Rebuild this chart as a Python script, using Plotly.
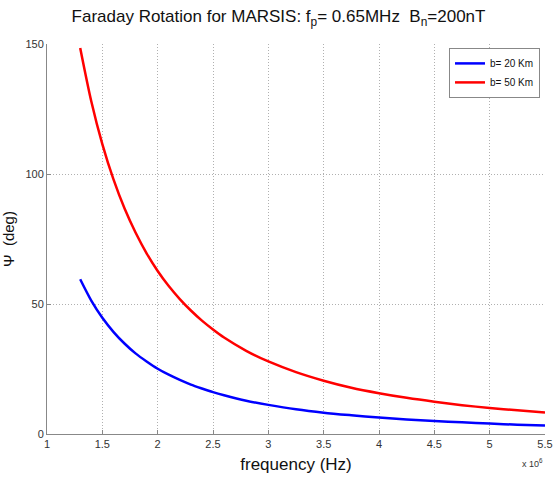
import plotly.graph_objects as go

freq_e6 = [1.3, 1.4, 1.5, 1.6, 1.7, 1.8, 1.9, 2.0, 2.1, 2.2, 2.3, 2.4, 2.5, 2.6, 2.8, 3.0,
           3.25, 3.5, 3.75, 4.0, 4.25, 4.5, 4.75, 5.0, 5.25, 5.5]
psi_b20 = [59.5, 51.3, 44.7, 39.3, 34.8, 31.0, 27.9, 25.1, 22.8, 20.8, 19.0, 17.5, 16.1,
           14.9, 12.8, 11.2, 9.5, 8.2, 7.2, 6.3, 5.6, 5.0, 4.5, 4.0, 3.6, 3.3]
psi_b50 = [148.5, 128.0, 111.5, 98.0, 86.8, 77.5, 69.5, 62.7, 56.9, 51.9, 47.5, 43.6, 40.2,
           37.1, 32.0, 27.9, 23.8, 20.5, 17.8, 15.7, 13.9, 12.4, 11.1, 10.0, 9.1, 8.3]
x_ticks = [1, 1.5, 2, 2.5, 3, 3.5, 4, 4.5, 5, 5.5]
x_tick_text = ["1", "1.5", "2", "2.5", "3", "3.5", "4", "4.5", "5", "5.5"]
y_ticks = [0, 50, 100, 150]

fig = go.Figure()
fig.add_trace(go.Scatter(x=freq_e6, y=psi_b20, mode="lines", name="b= 20 Km",
                         line=dict(color="#0000ff", width=2.5, shape="spline", smoothing=0.8)))
fig.add_trace(go.Scatter(x=freq_e6, y=psi_b50, mode="lines", name="b= 50 Km",
                         line=dict(color="#ff0000", width=2.5, shape="spline", smoothing=0.8)))

font = "Liberation Sans, Arial, sans-serif"
fig.update_layout(
    width=557, height=477,
    margin=dict(l=47, r=12, t=44, b=43),
    paper_bgcolor="white", plot_bgcolor="white",
    font=dict(family=font, color="#222222"),
    title=dict(text="Faraday Rotation for MARSIS: f<sub>p</sub>= 0.65MHz  B<sub>n</sub>=200nT",
               x=0.5, xanchor="center", y=0.966, yanchor="middle",
               font=dict(size=17, color="#111111")),
    showlegend=True,
    legend=dict(x=0.99, y=0.99, xanchor="right", yanchor="top",
                bgcolor="white", bordercolor="#888888", borderwidth=1,
                font=dict(size=10, color="#111111"), tracegroupgap=0,
                itemwidth=30),
    xaxis=dict(range=[1, 5.5], tickvals=x_ticks, ticktext=x_tick_text, automargin=False,
               showgrid=True, gridcolor="#b0b0b0", griddash="1px,2px", gridwidth=1,
               showline=True, linecolor="#888888", linewidth=1,
               ticks="inside", ticklen=4, tickcolor="#888888",
               tickfont=dict(size=11, color="#333333"), zeroline=False,
               title=dict(text="frequency (Hz)", font=dict(size=17, color="#111111"), standoff=8)),
    yaxis=dict(range=[0, 150], tickvals=y_ticks, automargin=False,
               showgrid=True, gridcolor="#b0b0b0", griddash="1px,2px", gridwidth=1,
               showline=True, linecolor="#888888", linewidth=1,
               ticks="inside", ticklen=4, tickcolor="#888888",
               tickfont=dict(size=11, color="#333333"), zeroline=False,
               title=dict(text="Ψ  (deg)", font=dict(size=15, color="#111111"), standoff=10)),
    annotations=[dict(text="x 10<sup>6</sup>", xref="paper", yref="paper", x=1.0, y=-0.055,
                      xanchor="right", yanchor="top", showarrow=False,
                      font=dict(size=9, color="#333333"))],
)

fig.write_html("out.html", config={"displayModeBar": False},
               post_script="document.body.style.margin='0';")
